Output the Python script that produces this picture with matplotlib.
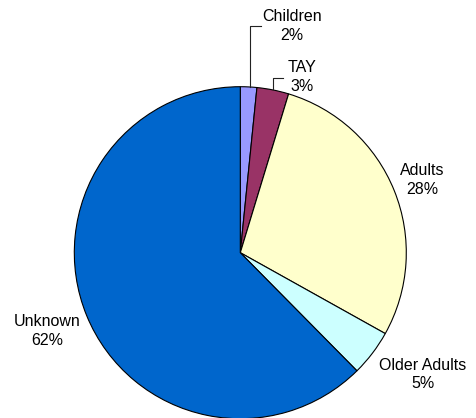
import matplotlib.pyplot as plt

categories = ["Children", "TAY", "Adults", "Older Adults", "Unknown"]
shares = [1.6, 3.1, 28.4, 4.5, 62.4]
pct_labels = ["2%", "3%", "28%", "5%", "62%"]
colors = ["#9999FF", "#993366", "#FFFFCC", "#CCFFFF", "#0066CC"]

W, H = 477, 418
fig = plt.figure(figsize=(W / 100, H / 100), dpi=100)
ax = fig.add_axes([0, 0, 1, 1])

# pie in pixel coords (y measured from bottom)
cx, cy, r = 240.3, H - 252.7, 166
wedges, _ = ax.pie(shares, colors=colors, startangle=90, counterclock=False,
                   center=(cx, cy), radius=r, frame=True,
                   wedgeprops=dict(edgecolor="black", linewidth=0.8))
ax.set_xlim(0, W)
ax.set_ylim(0, H)
ax.set_aspect("equal")
ax.axis("off")

# label positions (pixel coords, from top)
label_pos = [(292, 26), (302, 77), (422, 180), (423, 374.5), (47, 331)]
for name, pct, (x, y) in zip(categories, pct_labels, label_pos):
    ax.text(x, H - y, f"{name}\n{pct}", ha="center", va="center",
            fontsize=11.5, family="Liberation Sans", linespacing=1.3)

# leader lines for the small slices
ax.plot([250, 250, 261], [H - 87, H - 26, H - 26], color="#222222", lw=0.8)
ax.plot([273, 273, 283], [H - 89, H - 78, H - 78], color="#222222", lw=0.8)

fig.savefig("out.png", dpi=100)
